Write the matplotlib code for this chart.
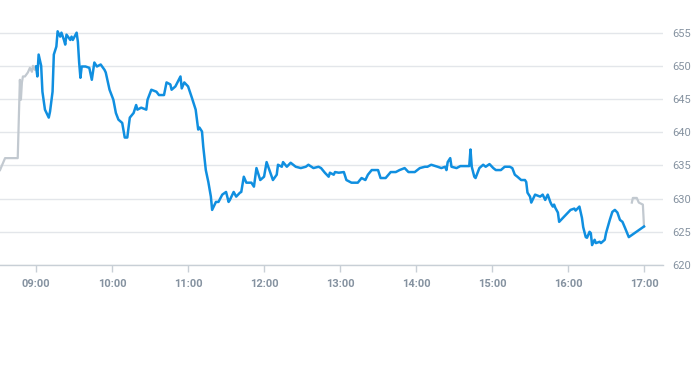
import matplotlib
matplotlib.use("Agg")
import matplotlib.pyplot as plt

# minutes after 09:00 and price
pre_t = [-28.5, -24.5, -14.5, -12.8, -12, -11.2, -10.4, -8.8, -6.5, -4.9, -3.3, -2.5, -1, 0]
pre_p = [634.3, 636.1, 636.1, 647.9, 644.9, 647.5, 648.4, 648.4, 649.0, 649.7, 649.1, 650.0, 649.4, 649.9]

day_t = [0, 1, 2, 4, 5, 7, 9, 10, 11, 13, 14, 16, 17, 19, 20, 22, 23, 24, 27, 28,
         29, 32, 33, 34, 35, 36, 39, 42, 44, 46, 48, 51, 54, 55, 58, 61, 63, 65, 68, 70,
         72, 74, 77, 79, 80, 83, 87, 88, 91, 95, 97, 101, 103, 106, 107, 110, 114, 115, 117, 120,
         123, 126, 128, 129, 131, 132, 134, 136, 138, 139, 142, 144, 147, 150, 152, 153, 156, 158, 161, 162,
         164, 166, 168, 170, 172, 174, 177, 180, 182, 185, 187, 190, 191, 194, 195, 198, 201, 205, 209, 213,
         215, 219, 223, 225, 228, 231, 232, 235, 236, 239, 243, 245, 249, 254, 257, 260, 262, 265, 270, 272,
         276, 280, 284, 287, 291, 294, 299, 303, 307, 309, 312, 317, 320, 323, 324, 325, 327, 328, 332, 335,
         339, 342, 343, 344, 346, 347, 350, 353, 355, 358, 361, 363, 367, 370, 374, 376, 378, 380, 383, 386,
         387, 388, 390, 391, 394, 398, 400, 402, 404, 406, 407, 408, 409, 410, 412, 413, 416, 420, 422, 425,
         426, 429, 431, 432, 434, 435, 437, 438, 439, 441, 442, 445, 446, 449, 450, 453, 455, 457, 459, 461,
         463, 465, 468, 480]
day_p = [649.9, 648.4, 651.7, 650.0, 646.1, 643.4, 642.6, 642.2, 643.1, 646.1, 651.7, 652.9, 655.2, 654.4, 655.0, 653.9, 653.2, 654.7, 653.9, 654.4,
         653.9, 655.0, 653.6, 650.5, 648.2, 649.9, 649.9, 649.7, 647.9, 650.5, 649.9, 650.2, 649.4, 649.0, 646.4, 644.9, 642.9, 641.9, 641.4, 639.2,
         639.2, 642.2, 642.9, 644.1, 643.4, 643.7, 643.4, 644.9, 646.4, 646.1, 645.6, 645.6, 647.5, 647.2, 646.4, 646.9, 648.4, 646.6, 647.5, 646.9,
         645.2, 643.4, 640.4, 640.7, 640.1, 637.8, 634.3, 632.5, 630.3, 628.3, 629.5, 629.5, 630.6, 631.0, 629.5, 629.8, 631.0, 630.3, 630.9, 631.0,
         633.3, 632.4, 632.4, 632.4, 631.8, 634.6, 632.8, 633.3, 635.5, 633.9, 632.8, 633.6, 635.1, 634.8, 635.5, 634.8, 635.4, 634.8, 634.6, 634.8,
         635.1, 634.6, 634.8, 634.6, 633.9, 633.3, 633.9, 633.6, 634.0, 633.9, 634.0, 632.8, 632.4, 632.4, 633.1, 632.8, 633.6, 634.3, 634.3, 633.1,
         633.1, 634.0, 634.0, 634.3, 634.6, 634.0, 634.0, 634.6, 634.8, 634.8, 635.1, 634.8, 634.6, 634.8, 634.3, 635.5, 636.1, 634.8, 634.6, 634.9,
         634.9, 634.9, 637.4, 634.8, 633.3, 633.1, 634.6, 635.1, 634.8, 635.2, 634.6, 634.3, 634.3, 634.8, 634.8, 634.6, 633.6, 633.3, 632.8, 632.8,
         632.5, 630.9, 630.3, 629.4, 630.6, 630.3, 630.6, 629.8, 630.6, 629.5, 629.1, 628.8, 629.1, 628.6, 627.9, 626.5, 627.1, 627.9, 628.3, 628.5,
         628.2, 628.8, 627.1, 625.7, 624.2, 624.1, 625.0, 624.8, 623.0, 623.8, 623.3, 623.5, 623.3, 623.8, 624.8, 626.8, 628.0, 628.3, 627.9, 626.8,
         626.5, 625.6, 624.2, 625.8]

post_t = [470.4, 471.2, 474.3, 475.9, 479.1, 480]
post_p = [629.4, 630.1, 630.1, 629.4, 629.1, 625.8]

tick_t = [0, 60, 120, 180, 240, 300, 360, 420, 480]
tick_labels = ["09:00", "10:00", "11:00", "12:00", "13:00", "14:00", "15:00", "16:00", "17:00"]
y_ticks = [620, 625, 630, 635, 640, 645, 650, 655]

grey_txt = "#8592a0"

fig = plt.figure(figsize=(6.93, 3.65), dpi=100)
ax = fig.add_axes([0, 100 / 365, 663 / 693, 239 / 365])

ax.plot(pre_t, pre_p, color="#c2c9d0", lw=1.6, solid_joinstyle="round")
ax.plot(post_t, post_p, color="#c2c9d0", lw=1.6, solid_joinstyle="round")
ax.plot(day_t, day_p, color="#108fe0", lw=1.8, solid_joinstyle="round")

ax.set_xlim(-28.5, 495)
ax.set_ylim(620, 656)

for s in ["top", "left", "right"]:
    ax.spines[s].set_visible(False)
ax.spines["bottom"].set_color("#c8cfd6")
ax.spines["bottom"].set_linewidth(1)

ax.set_yticks(y_ticks)
ax.grid(axis="y", color="#e3e6ea", lw=1)
ax.set_axisbelow(True)
ax.yaxis.tick_right()
ax.tick_params(axis="y", length=0, pad=7, labelsize=8, labelcolor=grey_txt)
for lab in ax.get_yticklabels():
    lab.set_fontfamily("Roboto")

ax.set_xticks(tick_t)
ax.set_xticklabels(tick_labels, fontfamily="Roboto", fontweight="bold")
ax.tick_params(axis="x", length=5, width=1, color="#c8cfd6", pad=5, labelsize=8, labelcolor=grey_txt)

fig.savefig("out.png", dpi=100)
